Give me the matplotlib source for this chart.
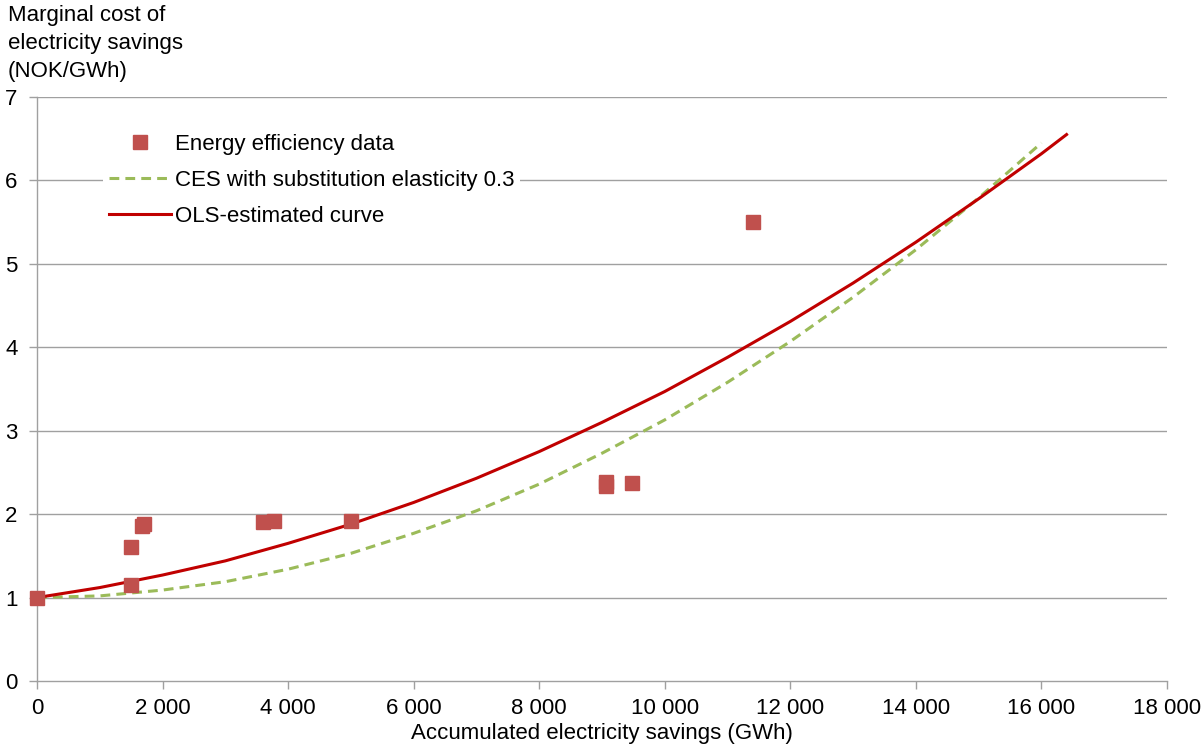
import matplotlib
matplotlib.use("Agg")
import matplotlib.pyplot as plt
import numpy as np

plt.rcParams['font.family'] = ['Liberation Sans', 'DejaVu Sans']

# Energy efficiency data points (GWh, NOK/GWh)
data_x = [0, 1500, 1500, 1680, 1700, 3600, 3780, 5000, 9060, 9060, 9480, 11400]
data_y = [1.00, 1.61, 1.15, 1.86, 1.88, 1.90, 1.92, 1.92, 2.34, 2.38, 2.37, 5.50]

# CES curve (substitution elasticity 0.3)
ces_x = [0, 1000, 2000, 3000, 4000, 5000, 6000, 7000, 8000, 9000, 10000,
         11000, 12000, 13000, 14000, 15000, 16000]
ces_y = [1.00, 1.02, 1.09, 1.19, 1.34, 1.53, 1.77, 2.04, 2.36, 2.73, 3.13,
         3.58, 4.07, 4.60, 5.17, 5.79, 6.45]

# OLS-estimated curve
ols_x = [0, 1000, 2000, 3000, 4000, 5000, 6000, 7000, 8000, 9000, 10000,
         11000, 12000, 13000, 14000, 15000, 16000, 16400]
ols_y = [1.00, 1.12, 1.27, 1.44, 1.65, 1.88, 2.14, 2.43, 2.75, 3.10, 3.47,
         3.88, 4.31, 4.77, 5.26, 5.78, 6.32, 6.55]

x_ticks = [0, 2000, 4000, 6000, 8000, 10000, 12000, 14000, 16000, 18000]
x_tick_labels = ['0', '2 000', '4 000', '6 000', '8 000', '10 000', '12 000',
                 '14 000', '16 000', '18 000']
y_ticks = [0, 1, 2, 3, 4, 5, 6, 7]

FS = 16

fig = plt.figure(figsize=(12.04, 7.54), dpi=100)
ax = fig.add_axes([37/1204, 1-681/754, (1167-37)/1204, (681-97)/754])

grid_c = '#A0A0A0'
for yv in y_ticks[1:]:
    ax.axhline(yv, color=grid_c, lw=1.0, zorder=0)

ax.plot(data_x, data_y, 's', color='#C0504D', markersize=9.5, zorder=3,
        linestyle='none', clip_on=False, label='Energy efficiency data')
ax.plot(ces_x, ces_y, '--', color='#9BBB59', lw=2.2, dashes=(3.2, 2), zorder=2,
        label='CES with substitution elasticity 0.3')
ax.plot(ols_x, ols_y, '-', color='#C00000', lw=2.2, zorder=2,
        label='OLS-estimated curve')

ax.set_xlim(0, 18000)
ax.set_ylim(0, 7)
ax.set_xticks(x_ticks)
ax.set_xticklabels(x_tick_labels)
ax.set_yticks(y_ticks)
ax.tick_params(axis='both', labelsize=FS, colors=grid_c, labelcolor='black',
               direction='out', length=6, width=1)
ax.tick_params(axis='x', pad=6)
ax.tick_params(axis='y', pad=8)
for s in ['top', 'right']:
    ax.spines[s].set_visible(False)
for s in ['left', 'bottom']:
    ax.spines[s].set_color(grid_c)
    ax.spines[s].set_linewidth(1.0)
ax.set_facecolor('white')

ax.set_xlabel('Accumulated electricity savings (GWh)', fontsize=FS, labelpad=3)
fig.text(8/1204, 1-5/754, 'Marginal cost of\nelectricity savings\n(NOK/GWh)',
         fontsize=FS, va='top', ha='left', linespacing=1.45)

leg = ax.legend(loc='upper left', bbox_to_anchor=(103/1204, 1-128/754),
                bbox_transform=fig.transFigure, frameon=True, fontsize=FS,
                handlelength=2.8, handletextpad=0.2, labelspacing=0.68,
                borderpad=0.25, borderaxespad=0)
leg.get_frame().set_edgecolor('none')
leg.get_frame().set_facecolor('white')
leg.get_frame().set_alpha(1)

fig.savefig('out.png', dpi=100, facecolor='white')
